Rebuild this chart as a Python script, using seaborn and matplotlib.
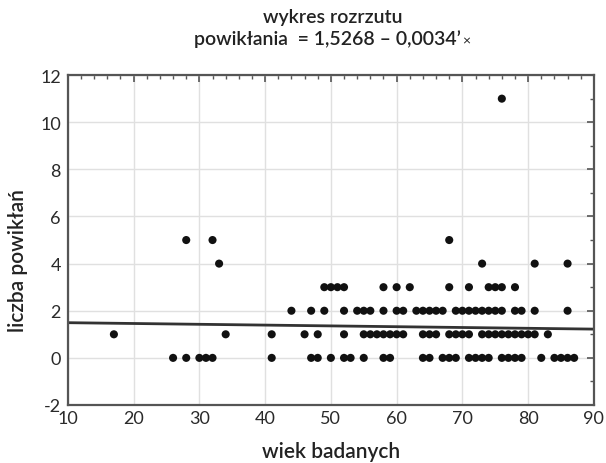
import matplotlib
matplotlib.use("Agg")
import matplotlib.pyplot as plt
import seaborn as sns
import pandas as pd
import numpy as np
from matplotlib.ticker import MultipleLocator

# ages (wiek badanych) of patients for each number of complications
ages_0 = [26, 28, 30, 31, 32, 41, 47, 48, 50, 52, 53, 55, 58, 59, 64, 65, 67, 68, 69,
          71, 72, 73, 74, 76, 77, 78, 79, 82, 84, 85, 86, 87]
ages_1 = [17, 34, 41, 46, 48, 52, 55, 56, 57, 58, 59, 60, 61, 64, 65, 66, 68, 69, 70,
          71, 73, 74, 75, 76, 77, 78, 79, 80, 81, 83]
ages_2 = [44, 47, 49, 52, 54, 55, 56, 58, 60, 61, 63, 64, 65, 66, 67, 69, 70, 71, 72,
          73, 74, 75, 76, 78, 79, 81, 86]
ages_3 = [49, 50, 51, 52, 58, 60, 62, 68, 71, 74, 75, 76, 78]
ages_4 = [33, 73, 81, 86]
ages_5 = [28, 32, 68]
ages_11 = [76]

intercept = 1.5268
slope = -0.0034

x_ticks = [10, 20, 30, 40, 50, 60, 70, 80, 90]
y_ticks = [-2, 0, 2, 4, 6, 8, 10, 12]

groups = [(0, ages_0), (1, ages_1), (2, ages_2), (3, ages_3), (4, ages_4),
          (5, ages_5), (11, ages_11)]
wiek = []
powiklania = []
for count, ages in groups:
    wiek += ages
    powiklania += [count] * len(ages)
df = pd.DataFrame({"wiek": wiek, "powiklania": powiklania})

sns.set_theme(style="white")
plt.rcParams["font.family"] = ["Lato", "DejaVu Sans"]
plt.rcParams["axes.unicode_minus"] = False

fig = plt.figure(figsize=(6.06, 4.64), dpi=100)
ax = fig.add_axes([0.112, 0.125, 0.868, 0.711])

sns.scatterplot(data=df, x="wiek", y="powiklania", color="#111111", s=34,
                edgecolor="none", ax=ax, zorder=3)

line_x = np.array([x_ticks[0], x_ticks[-1]], dtype=float)
ax.plot(line_x, intercept + slope * line_x, color="#333333", lw=2, zorder=2)

ax.set_xlim(x_ticks[0], x_ticks[-1])
ax.set_ylim(y_ticks[0], y_ticks[-1])
ax.set_xticks(x_ticks)
ax.set_yticks(y_ticks)
ax.xaxis.set_minor_locator(MultipleLocator(2))
ax.yaxis.set_minor_locator(MultipleLocator(1))
ax.grid(True, which="major", color="#e0e0e0", lw=1)
ax.set_axisbelow(True)
for sp in ax.spines.values():
    sp.set_color("#555555")
    sp.set_linewidth(1.6)
ax.tick_params(which="both", direction="in", top=True, right=True,
               colors="#555555", labelcolor="#2a2a2a")
ax.tick_params(which="major", length=5, width=1.2, labelsize=13)
ax.tick_params(which="minor", length=3, width=1)
ax.tick_params(axis="x", pad=3.5)
ax.tick_params(axis="y", pad=5)

ax.set_xlabel("wiek badanych", fontsize=15, fontweight="semibold", color="#222222", labelpad=11)
ax.set_ylabel("liczba powikłań", fontsize=15, fontweight="semibold", color="#222222")
ax.yaxis.set_label_coords(-0.076, 0.44)

fig.text(0.549, 0.963, "wykres rozrzutu", ha="center", va="center", fontsize=14,
         fontweight="semibold", color="#222222")
t2 = fig.text(0.541, 0.915, "powikłania  = 1,5268 – 0,0034’", ha="center", va="center",
              fontsize=14, fontweight="semibold", color="#222222")
fig.canvas.draw()
bb = t2.get_window_extent()
fig.text((bb.x1 + 1) / fig.bbox.width, 0.911, "×", ha="left", va="center", fontsize=10,
         color="#222222")

fig.savefig("out.png", dpi=100)
